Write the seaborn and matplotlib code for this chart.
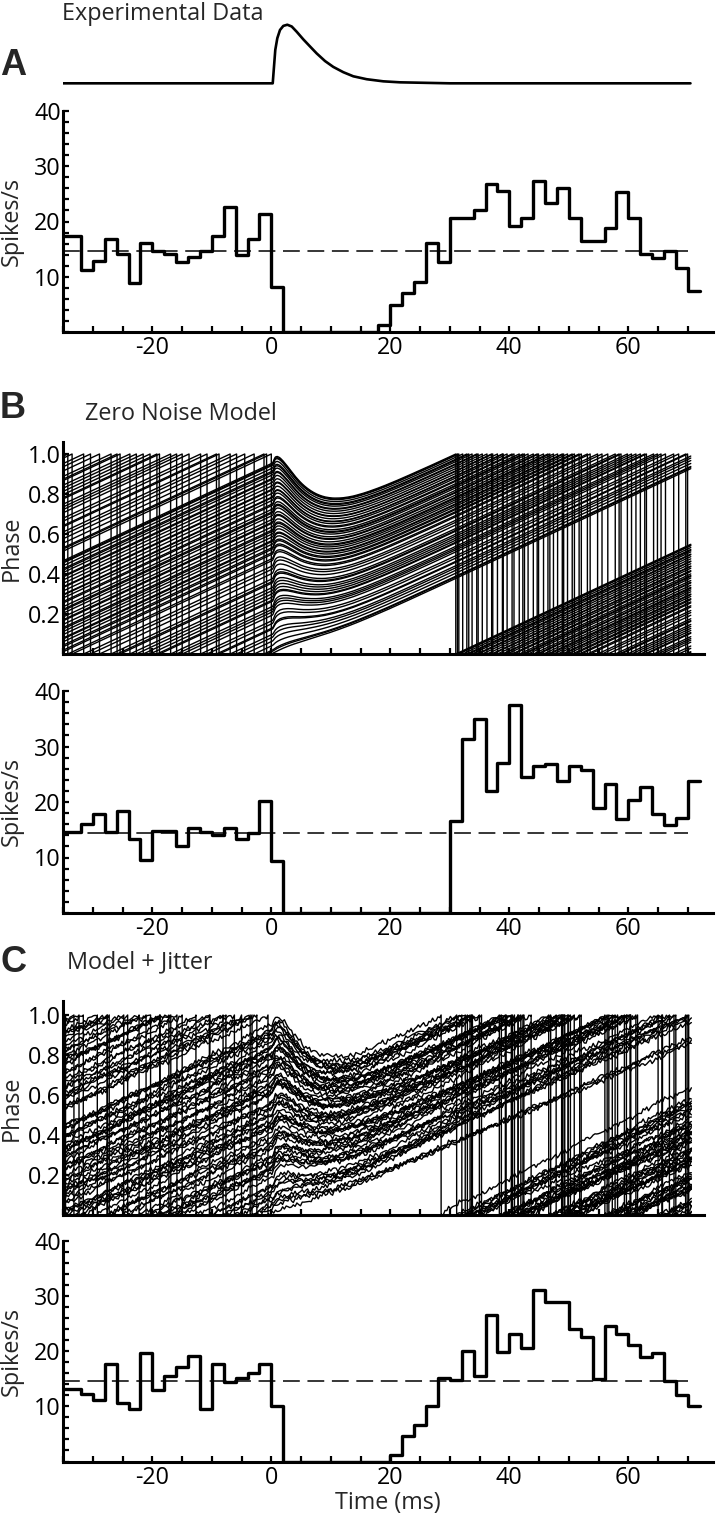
import numpy as np
import pandas as pd
import seaborn as sns
import matplotlib.pyplot as plt
from matplotlib.ticker import FixedLocator, MultipleLocator, FormatStrFormatter

# --- histogram data: spikes/s in 2 ms bins, first bin starts at -36 ms ---
BIN_START = -36
BIN_WIDTH = 2

RATE_EXP = [17.4, 17.4, 11.3, 12.8, 16.8, 14.1, 8.8, 16.1, 14.7, 14.1,
            12.7, 13.6, 14.7, 17.4, 22.7, 14.0, 16.8, 21.3, 8.2,
            0, 0, 0, 0, 0, 0, 0, 0,
            1.2, 4.9, 7.0, 9.0, 16.1, 12.7, 20.7, 20.7, 22.1, 26.7,
            25.5, 19.2, 20.7, 27.3, 23.3, 26.0, 20.7, 16.5, 16.5, 18.8,
            25.4, 20.7, 14.1, 13.4, 14.7, 11.5, 7.5]

RATE_ZERO_NOISE = [14.6, 14.6, 16.1, 17.9, 14.6, 18.4, 13.4, 9.6, 14.7, 14.7,
                   12.1, 15.3, 14.6, 14.0, 15.3, 13.4, 14.4, 20.2, 9.3,
                   0, 0, 0, 0, 0, 0, 0, 0, 0, 0, 0, 0, 0, 0,
                   16.5, 31.3, 35.0, 22.0, 27.0, 37.4, 24.5, 26.4, 26.9, 23.8,
                   26.4, 25.7, 18.9, 23.3, 17.0, 20.3, 22.7, 17.9, 15.9, 17.1, 23.8]

RATE_JITTER = [13.2, 13.2, 12.3, 11.2, 17.7, 10.7, 9.5, 19.6, 13.0, 15.5,
               17.1, 19.1, 9.5, 17.7, 14.5, 15.1, 16.1, 17.6, 10.1,
               0, 0, 0, 0, 0, 0, 0, 0, 0,
               1.2, 4.6, 6.6, 10.1, 15.1, 14.7, 20.1, 15.5, 26.6, 19.9,
               23.1, 20.5, 31.1, 29.0, 29.0, 24.0, 22.6, 15.0, 24.6, 23.1,
               21.1, 18.9, 19.6, 14.6, 12.1, 10.0]

# mean background rate (dashed lines) and its time span
BASE_EXP = 14.7
BASE_ZERO_NOISE = 14.5
BASE_JITTER = 14.6
BASE_SPAN = [-35, 70]

# --- stimulus waveform (normalised) ---
STIM_T = [-35, 0.24, 0.45, 0.67, 1.01, 1.46, 2.02, 2.69, 3.43, 4.27, 5.38,
          6.50, 7.63, 9.03, 10.42, 12.10, 13.78, 16.03, 18.82, 21.63, 30.0, 70.45]
STIM_V = [0, 0, 0.28, 0.57, 0.77, 0.91, 0.98, 1.0, 0.97, 0.88, 0.75,
          0.63, 0.51, 0.38, 0.28, 0.19, 0.12, 0.07, 0.034, 0.017, 0.0, 0.0]

PERIOD_MS = 72.0
T_BEGIN, T_END = -35.0, 70.5
BUMP_AMP = 0.05      # brief phase advance at stimulus onset
DELAY_RATE = 0.055   # phase-dependent delay during the stimulus

PHASES_B = [0.000, 0.011, 0.017, 0.040, 0.062, 0.081, 0.096, 0.122, 0.128, 0.150,
            0.165, 0.192, 0.208, 0.221, 0.235, 0.261, 0.267, 0.283, 0.299, 0.315,
            0.330, 0.353, 0.360, 0.374, 0.401, 0.422, 0.438, 0.465, 0.475,
            0.497, 0.505, 0.522, 0.530, 0.547, 0.561, 0.566, 0.583, 0.598, 0.611,
            0.618, 0.634, 0.652, 0.657, 0.671, 0.690, 0.703, 0.709, 0.722, 0.741,
            0.748, 0.766, 0.780, 0.783, 0.801, 0.818, 0.822, 0.839, 0.856, 0.871,
            0.876, 0.893, 0.905, 0.912, 0.927, 0.941, 0.946, 0.952]

PHASES_C = [0.004, 0.021, 0.033, 0.049, 0.072, 0.088, 0.093, 0.115, 0.139, 0.147,
            0.171, 0.184, 0.199, 0.226, 0.243, 0.249, 0.272, 0.291, 0.306, 0.311,
            0.337, 0.349, 0.366, 0.385, 0.392, 0.417, 0.429, 0.448, 0.459, 0.477,
            0.491, 0.509, 0.515, 0.538, 0.552, 0.559, 0.577, 0.593, 0.604, 0.626,
            0.633, 0.649, 0.668, 0.681, 0.694, 0.716, 0.724, 0.737, 0.759, 0.771,
            0.776, 0.794, 0.811, 0.826, 0.833, 0.851, 0.866, 0.872, 0.889, 0.907,
            0.918, 0.926, 0.943]

# hand-typed jitter increments for panel C
JITTER_A = [0.8, -0.3, 0.5, -0.9, 0.2, 0.7, -0.6, -0.1, 0.9, -0.4, 0.3, -0.8, 0.6,
            -0.2, -0.7, 0.4, 0.1, -0.5, 0.9, -0.9, 0.2, 0.6, -0.3, -0.6, 0.7, 0.0,
            -0.8, 0.5, 0.3, -0.4, 0.8, -0.7, -0.2, 0.4, -0.1, 0.6, -0.5]
JITTER_B = [-0.6, 0.9, -0.2, 0.4, -0.8, 0.1, 0.7, -0.5, 0.3, -0.9, 0.6, -0.1,
            0.8, -0.4, 0.2, -0.7, 0.5, -0.3, 0.9, -0.6, 0.0, 0.4, -0.8]
DRIFT_C = [0.0010, -0.0006, 0.0014, -0.0011, 0.0003, 0.0007, -0.0015,
           0.0005, -0.0003, 0.0012, -0.0008, 0.0001, 0.0011]

# --- layout (pixels of the 720 x 1517 figure) ---
FIG_W, FIG_H = 720, 1517
PX_PER_MS = 5.95
T0_PX = 271.3
LEFT_PX = T0_PX + T_BEGIN * PX_PER_MS
YLABEL_PX = 24

FONT = ['Open Sans', 'DejaVu Sans']
LABEL_SIZE = 16.8


def add_axes(fig, right_px, top_px, bottom_px):
    rect = [LEFT_PX / FIG_W, 1 - bottom_px / FIG_H,
            (right_px - LEFT_PX) / FIG_W, (bottom_px - top_px) / FIG_H]
    ax = fig.add_axes(rect)
    ax.right_px = right_px
    return ax


def style_axes(ax, show_xlabels):
    ax.set_xlim(T_BEGIN, (ax.right_px - T0_PX) / PX_PER_MS)
    sns.despine(ax=ax)
    for side in ["left", "bottom"]:
        ax.spines[side].set_linewidth(2.2)
        ax.spines[side].set_color("black")
    ax.xaxis.set_major_locator(MultipleLocator(20))
    ax.xaxis.set_minor_locator(MultipleLocator(5))
    ax.tick_params(which="both", direction="in", length=4, width=1.6,
                   colors="black", labelsize=LABEL_SIZE)
    ax.tick_params(axis="y", pad=1.5)
    ax.tick_params(axis="x", pad=3, labelbottom=show_xlabels)
    ax.set_xlabel("")
    ax.yaxis.set_label_coords((YLABEL_PX - LEFT_PX) / (ax.right_px - LEFT_PX), 0.5)


def plot_rate(ax, rates, base):
    rates = [float(r) for r in rates]
    n_bins = len(rates)
    df = pd.DataFrame({
        "t": [BIN_START + BIN_WIDTH * (k + 0.5) for k in range(n_bins)],
        "rate": rates,
    })
    sns.histplot(data=df, x="t", weights="rate", binwidth=BIN_WIDTH,
                 binrange=(BIN_START, BIN_START + BIN_WIDTH * n_bins),
                 element="step", fill=False, color="black", linewidth=2.4, ax=ax)
    sns.lineplot(x=BASE_SPAN, y=[base, base], color="black", linewidth=1.1,
                 linestyle=(0, (11, 5)), estimator=None, ax=ax)
    ax.set_ylim(0, 40)
    ax.yaxis.set_major_locator(FixedLocator([10, 20, 30, 40]))
    ax.yaxis.set_minor_locator(MultipleLocator(2))
    ax.set_ylabel("Spikes/s", fontsize=LABEL_SIZE)


def phase_traces(phases, dt, jitter_scale=0.0):
    t = np.arange(T_BEGIN, T_END + dt / 2, dt)
    s = np.interp(t, STIM_T, STIM_V)
    ds = np.diff(s)
    n = len(t) - 1
    rows = []
    for i, p in enumerate(phases):
        if jitter_scale:
            ja = np.array([JITTER_A[(k + 5 * i) % len(JITTER_A)] for k in range(n)])
            jb = np.array([JITTER_B[(k + 11 * i) % len(JITTER_B)] for k in range(n)])
            noise = jitter_scale * ((ja - np.mean(JITTER_A)) + (jb - np.mean(JITTER_B)))
            noise = noise + DRIFT_C[i % len(DRIFT_C)] * dt
        else:
            noise = np.zeros(n)
        phi = (p + T_BEGIN / PERIOD_MS) % 1.0
        rows.append((i, t[0], phi))
        for k in range(n):
            g = min(1.0, phi / 0.2)
            dphi = (dt / PERIOD_MS + BUMP_AMP * g * ds[k]
                    - DELAY_RATE * phi * s[k] * dt + noise[k])
            new = phi + dphi
            if new >= 1.0:
                tc = t[k] + dt * (1.0 - phi) / dphi
                rows.append((i, tc, 1.0))
                rows.append((i, tc, 0.0))
                new -= 1.0
            phi = max(new, 0.0)
            rows.append((i, t[k + 1], phi))
    return pd.DataFrame(rows, columns=["trace", "t", "phase"])


def plot_phase(ax, df, lw, ytop):
    sns.lineplot(data=df, x="t", y="phase", units="trace", estimator=None,
                 sort=False, color="black", linewidth=lw, legend=False, ax=ax)
    ax.set_ylim(0, ytop)
    ax.yaxis.set_major_locator(FixedLocator([0.2, 0.4, 0.6, 0.8, 1.0]))
    ax.yaxis.set_major_formatter(FormatStrFormatter("%.1f"))
    ax.set_ylabel("Phase", fontsize=LABEL_SIZE)


def fig_text(fig, x_px, y_px, text, **kw):
    fig.text(x_px / FIG_W, 1 - y_px / FIG_H, text, va="baseline", ha="left", **kw)


if __name__ == "__main__":
    sns.set_theme(style="ticks")
    plt.rcParams["font.family"] = FONT
    plt.rcParams["axes.unicode_minus"] = False

    fig = plt.figure(figsize=(FIG_W / 100, FIG_H / 100), dpi=100)

    # A: stimulus trace and experimental PSTH
    ax_stim = add_axes(fig, 713, 15, 90)
    sns.lineplot(x=STIM_T, y=STIM_V, sort=False, estimator=None, color="black",
                 linewidth=1.9, ax=ax_stim)
    ax_stim.set_xlim(T_BEGIN, (713 - T0_PX) / PX_PER_MS)
    ax_stim.set_ylim(-0.114, 1.166)
    ax_stim.axis("off")

    ax_a = add_axes(fig, 713, 111, 332)
    plot_rate(ax_a, RATE_EXP, BASE_EXP)
    style_axes(ax_a, True)

    # B: zero noise model
    ax_pb = add_axes(fig, 704, 442, 654)
    plot_phase(ax_pb, phase_traces(PHASES_B, 0.1), 1.0, 1.06)
    style_axes(ax_pb, False)

    ax_b = add_axes(fig, 713, 691, 913)
    plot_rate(ax_b, RATE_ZERO_NOISE, BASE_ZERO_NOISE)
    style_axes(ax_b, True)

    # C: model with jitter
    ax_pc = add_axes(fig, 704, 1001, 1215)
    plot_phase(ax_pc, phase_traces(PHASES_C, 0.3, jitter_scale=0.013), 1.0, 1.07)
    style_axes(ax_pc, False)

    ax_c = add_axes(fig, 713, 1241, 1461.5)
    plot_rate(ax_c, RATE_JITTER, BASE_JITTER)
    style_axes(ax_c, True)
    ax_c.set_xlabel("Time (ms)", fontsize=LABEL_SIZE, labelpad=1)

    # titles and panel letters
    fig_text(fig, 62, 20, "Experimental Data", fontsize=LABEL_SIZE)
    fig_text(fig, 85, 420, "Zero Noise Model", fontsize=LABEL_SIZE)
    fig_text(fig, 67, 968, "Model + Jitter", fontsize=LABEL_SIZE)
    for letter, y_px in [("A", 75), ("B", 418), ("C", 972)]:
        fig_text(fig, 0, y_px, letter, fontsize=26, fontweight="bold",
                 family=["Liberation Sans", "DejaVu Sans"])

    fig.savefig("out.png", dpi=100)
